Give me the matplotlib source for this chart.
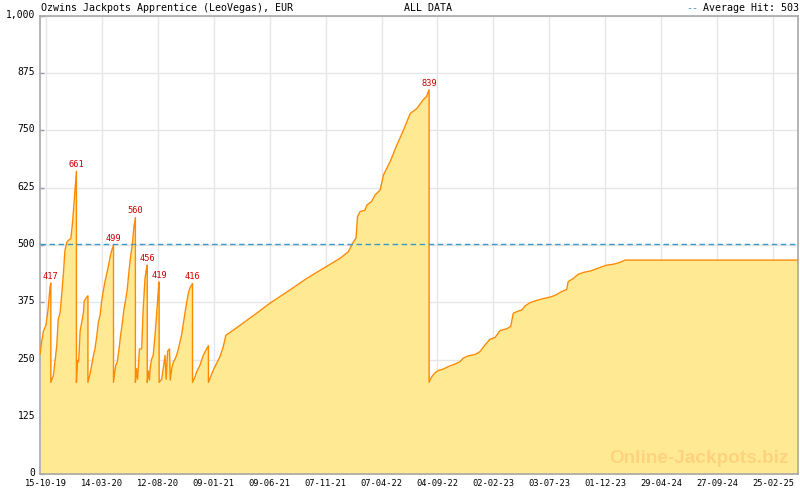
import numpy as np
import matplotlib
matplotlib.use("Agg")
import matplotlib.pyplot as plt
import matplotlib.dates as mdates
import matplotlib.transforms as mtransforms
from matplotlib.ticker import FixedLocator, FuncFormatter

# ---------------- data ----------------
START = "2019-10-15"
# days since START, jackpot value (EUR)
days = [-16, -12, -7, 0, 6, 9, 11, 13, 13,
        20, 24, 29, 33, 38, 42, 47, 51, 56, 60, 67, 72, 76, 79, 82, 82,
        85, 88, 92, 96, 101, 103, 108, 113, 113,
        119, 128, 132, 137, 141, 146, 150, 155, 159, 164, 168, 173, 177, 182, 182,
        188, 192, 197, 201, 206, 210, 215, 219, 224, 228, 233, 237, 241, 241,
        244, 247, 252, 258, 262, 267, 271, 273, 273,
        276, 279, 281, 285, 289, 294, 298, 303, 305, 305,
        312, 316, 321, 324, 328, 333, 335, 339, 343, 348, 352, 357, 361, 366,
        370, 375, 379, 384, 388, 393, 395, 395,
        402, 406, 415, 424, 433, 438, 438,
        451, 469, 478, 485, 505, 568, 604, 658, 703, 748, 793, 815, 829, 836,
        840, 847, 860, 865, 878, 887, 901, 910, 928, 946, 964, 982, 1000,
        1017, 1026, 1033, 1033,
        1040, 1049, 1058, 1071, 1089, 1103, 1116, 1125, 1139, 1157, 1170,
        1184, 1197, 1211, 1224, 1242, 1253, 1260, 1274, 1283, 1292, 1305,
        1319, 1341, 1363, 1377, 1390, 1404, 1408, 1422, 1435, 1449, 1471,
        1494, 1512, 1530, 1548, 1561, 2028]
values = [262, 287, 312, 325, 363, 391, 409, 417, 200,
          215, 244, 280, 338, 352, 388, 438, 488, 506, 510, 514, 553, 596, 629, 661, 200,
          248, 245, 312, 330, 352, 377, 384, 389, 200,
          219, 259, 273, 302, 330, 348, 377, 402, 420, 438, 453, 474, 488, 499, 200,
          237, 244, 273, 302, 330, 359, 381, 402, 445, 474, 503, 539, 560, 200,
          230, 207, 273, 273, 359, 427, 449, 456, 200,
          225, 205, 232, 251, 259, 302, 345, 402, 419, 200,
          207, 230, 259, 207, 268, 273, 205, 230, 244, 251, 259, 273, 287, 305,
          327, 352, 373, 395, 406, 413, 416, 200,
          212, 223, 237, 259, 273, 280, 200,
          227, 256, 278, 303, 314, 351, 373, 402, 427, 449, 471, 485, 507, 515,
          562, 573, 576, 587, 595, 609, 620, 653, 682, 718, 751, 787, 798,
          817, 824, 839, 200,
          212, 221, 226, 229, 236, 240, 245, 253, 258, 261, 267,
          282, 294, 298, 313, 317, 322, 351, 356, 358, 367, 374,
          378, 383, 387, 392, 398, 403, 420, 427, 436, 440, 444,
          451, 456, 458, 462, 467, 467]
# labelled hits (values shown above their peaks)
labelled_hits = [417, 661, 499, 560, 456, 419, 416, 839]
AVERAGE_HIT = 503
TITLE = "Ozwins Jackpots Apprentice (LeoVegas), EUR"
SUBTITLE = "ALL DATA"
WATERMARK = "Online-Jackpots.biz"
tick_dates = ["2019-10-15", "2020-03-14", "2020-08-12", "2021-01-09", "2021-06-09",
              "2021-11-07", "2022-04-07", "2022-09-04", "2023-02-02", "2023-07-03",
              "2023-12-01", "2024-04-29", "2024-09-27", "2025-02-25"]
y_ticks = [0, 125, 250, 375, 500, 625, 750, 875, 1000]
X_START_DAY, X_END_DAY = -16.2, 2027.7

# ---------------- plot ----------------
MONO = ["DejaVu Sans Mono"]
FILL = "#FFEA93"
LINE = "#FF8A00"
GRID = "#E6E6E6"
SPINE = "#A8A8A8"
TICKC = "#9A9AB4"

start = mdates.date2num(np.datetime64(START))
x = start + np.array(days, dtype=float)
y = np.array(values, dtype=float)

fig = plt.figure(figsize=(8, 4.9), dpi=100)
ax = fig.add_axes([40 / 800, 16 / 490, 758 / 800, 458 / 490])

ax.fill_between(x, y, 0, color=FILL, lw=0, zorder=2)
ax.plot(x, y, color=LINE, lw=1.0, zorder=3)
ax.axhline(AVERAGE_HIT, color="#3B98C8", lw=1.0, dashes=(4, 2.5), zorder=4)

# peak labels: labelled hits that are followed by a reset
remaining = list(labelled_hits)
for i in range(len(y) - 1):
    if remaining and y[i + 1] < y[i] - 100 and int(y[i]) == remaining[0]:
        ax.annotate(f"{int(y[i])}", (x[i], y[i]), xytext=(0, 1.5),
                    textcoords="offset points", ha="center", va="bottom",
                    color="#CC0000", fontsize=6.2, family=MONO, zorder=5)
        remaining.pop(0)

ax.set_xlim(start + X_START_DAY, start + X_END_DAY)
ax.set_ylim(0, 1000)

major = [mdates.date2num(np.datetime64(d)) for d in tick_dates]
step = (major[1] - major[0]) / 6
minor = [major[0] + k * step for k in range(-1, 6 * len(major) + 2)]
ax.xaxis.set_major_locator(FixedLocator(major))
ax.xaxis.set_minor_locator(FixedLocator(minor))
ax.xaxis.set_major_formatter(mdates.DateFormatter("%d-%m-%y"))
ax.set_yticks(y_ticks)
ax.yaxis.set_major_formatter(FuncFormatter(lambda v, p: f"{int(v):,}"))

ax.tick_params(axis="x", which="major", direction="in", length=4.5, width=1,
               color=TICKC, pad=3.5, labelsize=6.3)
ax.tick_params(axis="x", which="minor", direction="in", length=2.5, width=1,
               color=TICKC)
ax.tick_params(axis="y", direction="in", length=3, width=1, color=TICKC,
               pad=3.5, labelsize=7.0)
for lab in ax.get_xticklabels() + ax.get_yticklabels():
    lab.set_family(MONO)
# y labels sit slightly above their gridlines, as in the reference
shift_up = mtransforms.ScaledTranslation(0, 2.0 / 100, fig.dpi_scale_trans)
for tick in ax.yaxis.get_major_ticks():
    tick.label1.set_transform(tick.label1.get_transform() + shift_up)

ax.grid(True, which="major", color=GRID, lw=1, zorder=0)
ax.set_axisbelow(True)
for s in ax.spines.values():
    s.set_color(SPINE)
    s.set_linewidth(1.2)

# watermark
ax.text(0.987, 0.024, WATERMARK, transform=ax.transAxes,
        ha="right", va="baseline", fontsize=13.7, fontweight="bold",
        family=["Liberation Sans", "DejaVu Sans"], color="#FFD27E", zorder=2.5)

# header
fig.text(41 / 800, 1 - 8 / 490, TITLE, ha="left", va="center",
         fontsize=7.2, family=MONO)
fig.text(428 / 800, 1 - 8 / 490, SUBTITLE, ha="center", va="center",
         fontsize=7.2, family=MONO)
fig.text(799 / 800, 1 - 8 / 490, f"Average Hit: {AVERAGE_HIT}", ha="right",
         va="center", fontsize=7.2, family=MONO)
fig.text(686 / 800, 1 - 8 / 490, "--", ha="left", va="center",
         fontsize=7.2, family=MONO, color="#3B98C8")

fig.savefig("out.png", dpi=100)
